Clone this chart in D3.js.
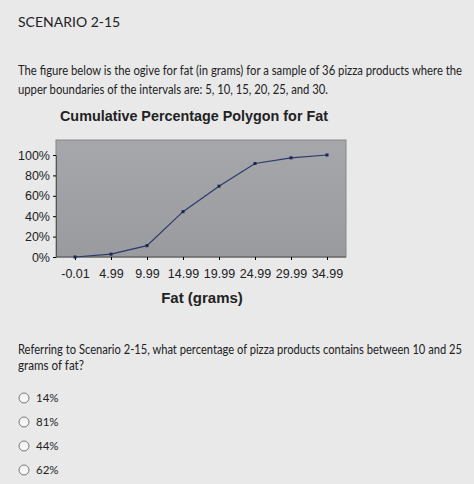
<!DOCTYPE html>
<html><head><meta charset="utf-8">
<script src="https://cdn.jsdelivr.net/npm/d3@7"></script>
<style>body{margin:0;background:#e9e9e9}</style>
</head><body>
<div class="canvas"></div>
<script>
// Data
const categories = ['-0.01', '4.99', '9.99', '14.99', '19.99', '24.99', '29.99', '34.99']
const cumPercent = [0, 2.78, 11.11, 44.44, 69.44, 91.67, 97.22, 100]
const yTicks = [0, 20, 40, 60, 80, 100]
const options = ['14%', '81%', '44%', '62%']

const svg = d3.select('.canvas')
    .append('svg')
        .attr('width', 474)
        .attr('height', 484)
        .style('font-family', 'Lato, "Open Sans", sans-serif')

svg.append('rect').attr('width', 474).attr('height', 484).attr('fill', '#e9e9ea')

const fitText = (xp, yp, size, len, str) => svg.append('text')
    .attr('x', xp).attr('y', yp).attr('font-size', size).attr('fill', '#222')
    .attr('textLength', len).attr('lengthAdjust', 'spacingAndGlyphs').text(str)

// Header text
svg.append('text').attr('x', 18).attr('y', 27).attr('font-size', 14).attr('fill', '#222').text('SCENARIO 2-15')
fitText(18, 75, 13.5, 444, 'The figure below is the ogive for fat (in grams) for a sample of 36 pizza products where the')
fitText(18, 94, 13.5, 310, 'upper boundaries of the intervals are: 5, 10, 15, 20, 25, and 30.')

svg.append('text').attr('x', 60).attr('y', 121)
    .attr('font-family', 'Arial, "Liberation Sans", sans-serif')
    .attr('font-size', 15.5).attr('font-weight', 'bold').attr('fill', '#222')
    .attr('textLength', 268).attr('lengthAdjust', 'spacingAndGlyphs')
    .text('Cumulative Percentage Polygon for Fat')

// Chart
const plot = {left: 56, right: 346, top: 140, bottom: 257}
const x = d3.scalePoint().domain(categories).range([75, 327])
const y = d3.scaleLinear().domain([0, 100]).range([plot.bottom, 155])

const grad = svg.append('defs').append('linearGradient').attr('id', 'bg')
    .attr('x1', 0).attr('y1', 0).attr('x2', 0).attr('y2', 1)
grad.append('stop').attr('offset', '0%').attr('stop-color', '#a6a7ab')
grad.append('stop').attr('offset', '100%').attr('stop-color', '#9a9b9f')

svg.append('rect')
    .attr('x', plot.left).attr('y', plot.top)
    .attr('width', plot.right - plot.left).attr('height', plot.bottom - plot.top)
    .attr('fill', 'url(#bg)').attr('stroke', '#888')

const yAxis = svg.append('g')
    .attr('transform', `translate(${plot.left},0)`)
    .call(d3.axisLeft(y).tickValues(yTicks).tickFormat(d => d + '%').tickSize(3))
yAxis.select('.domain').attr('stroke', '#555')
yAxis.selectAll('text').attr('font-size', 12.5).attr('fill', '#222')
    .attr('font-family', 'Arial, "Liberation Sans", sans-serif')

const xAxis = svg.append('g')
    .attr('transform', `translate(0,${plot.bottom})`)
    .call(d3.axisBottom(x).tickSize(3).tickPadding(9))
xAxis.select('.domain').attr('stroke', '#555').attr('d', `M${plot.left},0H${plot.right}`)
xAxis.selectAll('text').attr('font-size', 12.5).attr('fill', '#222')
    .attr('font-family', 'Arial, "Liberation Sans", sans-serif')

svg.append('text').attr('x', 202).attr('y', 303).attr('text-anchor', 'middle')
    .attr('font-family', 'Arial, "Liberation Sans", sans-serif')
    .attr('font-size', 15).attr('font-weight', 'bold').attr('fill', '#222')
    .text('Fat (grams)')

const line = d3.line().x((d, i) => x(categories[i])).y(d => y(d))
svg.append('path').datum(cumPercent)
    .attr('d', line).attr('fill', 'none').attr('stroke', '#2b3a6b').attr('stroke-width', 1.2)
svg.selectAll('.pt').data(cumPercent).enter()
    .append('rect').attr('class', 'pt')
        .attr('x', (d, i) => x(categories[i]) - 1.5).attr('y', d => y(d) - 1.5)
        .attr('width', 3).attr('height', 3).attr('fill', '#1d2550')

// Question
fitText(18, 354, 12.5, 444, 'Referring to Scenario 2-15, what percentage of pizza products contains between 10 and 25')
fitText(18, 370, 12.5, 66, 'grams of fat?')

const opt = svg.selectAll('.opt').data(options).enter()
    .append('g').attr('class', 'opt')
        .attr('transform', (d, i) => `translate(0,${398 + i * 24})`)
opt.append('circle').attr('cx', 24).attr('cy', 0).attr('r', 5)
    .attr('fill', '#f8f8f8').attr('stroke', '#777')
opt.append('text').attr('x', 36).attr('y', 4).attr('font-size', 11.5).attr('fill', '#222').text(d => d)
</script>
</body></html>
